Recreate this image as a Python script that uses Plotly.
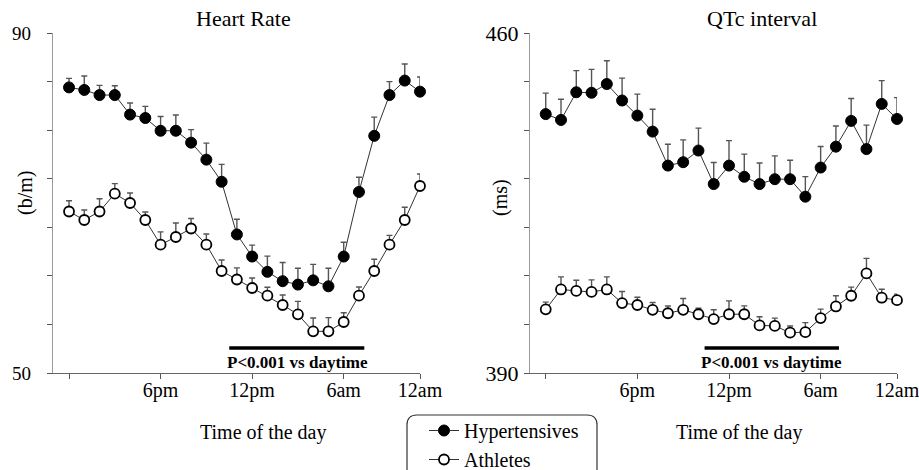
import plotly.graph_objects as go

hours = list(range(24))
x_tick_vals = [0, 6, 12, 18, 23]
x_tick_text = ["", "6pm", "12pm", "6am", "12am"]

hr_hyper = [83.6, 83.3, 82.7, 82.7, 80.4, 80.0, 78.5, 78.5, 77.1, 75.1, 72.5, 66.3,
            63.7, 61.9, 60.8, 60.4, 60.9, 60.2, 63.7, 71.3, 77.9, 82.7, 84.4, 83.1]
hr_hyper_err = [1.06, 1.65, 1.14, 1.10, 1.37, 1.37, 1.68, 1.85, 1.53, 1.95, 2.05, 1.79,
                1.34, 1.85, 2.20, 1.92, 1.88, 2.12, 1.69, 1.73, 2.20, 1.58, 1.96, 1.73]
hr_ath = [69.0, 68.0, 69.0, 71.1, 70.0, 68.0, 65.1, 66.0, 67.0, 65.1, 62.0, 61.0,
          60.0, 59.1, 58.0, 56.9, 54.9, 54.9, 56.0, 59.1, 62.0, 65.1, 68.0, 72.0]
hr_ath_err = [1.26, 1.18, 1.50, 1.18, 1.18, 0.94, 1.50, 1.65, 1.18, 1.26, 1.29, 1.37,
              1.18, 0.98, 1.18, 1.53, 1.57, 1.61, 1.09, 1.02, 1.38, 1.09, 1.50, 1.41]

qtc_hyper = [443.3, 442.1, 447.8, 447.7, 449.5, 446.1, 443.0, 439.7, 432.7, 433.4, 435.8, 428.9,
             432.7, 430.4, 428.9, 429.9, 429.9, 426.3, 432.3, 436.6, 441.9, 436.1, 445.4, 442.3]
qtc_hyper_err = [4.32, 4.26, 4.45, 4.82, 4.80, 4.61, 4.41, 4.61, 4.41, 4.59, 4.61, 4.45,
                 5.15, 4.67, 4.32, 4.80, 3.91, 4.12, 4.32, 4.26, 4.61, 4.94, 4.80, 4.39]
qtc_ath = [403.1, 407.2, 406.9, 406.7, 407.2, 404.4, 404.0, 403.0, 402.3, 403.0, 402.1, 401.1,
           402.1, 402.1, 399.8, 399.7, 398.3, 398.4, 401.3, 403.7, 405.9, 410.5, 405.5, 405.0]
qtc_ath_err = [1.50, 2.60, 2.20, 2.47, 2.60, 2.39, 1.59, 1.50, 1.50, 2.33, 1.24, 1.91,
               2.74, 1.71, 1.77, 1.59, 1.38, 1.98, 1.85, 2.20, 1.79, 3.09, 1.73, 1.24]

hr_ticks = [50 + k * 40 / 7 for k in range(8)]
hr_tick_text = ["50"] + [""] * 6 + ["90"]
qtc_ticks = [390 + 10 * k for k in range(8)]
qtc_tick_text = ["390"] + [""] * 6 + ["460"]

FONT = "Liberation Serif, Times New Roman, serif"
W, H = 919, 470

fig = go.Figure()


def add_series(x, y, err, filled, xa, ya, name, show):
    fig.add_trace(go.Scatter(
        x=x, y=y, mode="lines+markers", name=name, showlegend=show,
        xaxis=xa, yaxis=ya, cliponaxis=False,
        line=dict(color="#333333", width=1),
        marker=dict(size=11 if filled else 10,
                    color="black" if filled else "white",
                    line=dict(color="black", width=1 if filled else 1.8)),
        error_y=dict(type="data", array=err, arrayminus=[0] * len(err), symmetric=False,
                     color="#555555", thickness=1.4, width=3),
    ))


add_series(hours, hr_hyper, hr_hyper_err, True, "x", "y", "Hypertensives", True)
add_series(hours, hr_ath, hr_ath_err, False, "x", "y", "Athletes", True)
add_series(hours, qtc_hyper, qtc_hyper_err, True, "x2", "y2", "Hypertensives", False)
add_series(hours, qtc_ath, qtc_ath_err, False, "x2", "y2", "Athletes", False)

ytop, ybot = 33, 373
ydom = [(H - ybot) / H, (H - ytop) / H]

xcommon = dict(showgrid=False, zeroline=False, showline=True, linecolor="#666666", linewidth=1.2,
               ticks="outside", ticklen=5, tickcolor="#555555", tickwidth=1,
               tickvals=x_tick_vals, ticktext=x_tick_text, automargin=False,
               ticklabeloverflow="allow", ticklabelstandoff=-6,
               tickfont=dict(family=FONT, size=20, color="black"))
ycommon = dict(showgrid=False, zeroline=False, showline=True, linecolor="#999999", linewidth=1.2,
               ticks="outside", ticklen=5, tickcolor="#555555", tickwidth=1, automargin=False,
               ticklabeloverflow="allow")

fig.update_layout(
    width=W, height=H,
    margin=dict(l=0, r=0, t=0, b=0, pad=0, autoexpand=False),
    paper_bgcolor="white", plot_bgcolor="white",
    font=dict(family=FONT, color="black", size=20),
    xaxis=dict(**xcommon, domain=[53 / W, 420 / W], range=[-1.05, 23], anchor="y"),
    xaxis2=dict(**xcommon, domain=[530 / W, 897 / W], range=[-1.03, 23], anchor="y2"),
    yaxis=dict(**ycommon, domain=ydom, range=[50, 90], tickvals=hr_ticks, ticktext=hr_tick_text,
               tickfont=dict(family=FONT, size=19, color="black"), ticklabelstandoff=12, anchor="x"),
    yaxis2=dict(**ycommon, domain=ydom, range=[390, 460], tickvals=qtc_ticks, ticktext=qtc_tick_text,
                tickfont=dict(family=FONT, size=22, color="black"), ticklabelstandoff=1, anchor="x2"),
    showlegend=True,
    legend=dict(x=424 / W, y=(H - 411) / H, xanchor="left", yanchor="top",
                bgcolor="rgba(0,0,0,0)", borderwidth=0,
                font=dict(family=FONT, size=20, color="black"),
                itemsizing="trace", tracegroupgap=0),
)

ann = []
ann.append(dict(text="Heart Rate", x=243 / W, y=(H - 18) / H, xref="paper", yref="paper",
                showarrow=False, font=dict(size=22), xanchor="center", yanchor="middle"))
ann.append(dict(text="QTc interval", x=762 / W, y=(H - 18) / H, xref="paper", yref="paper",
                showarrow=False, font=dict(size=22), xanchor="center", yanchor="middle"))
ann.append(dict(text="(b/m)", x=25 / W, y=(H - 193) / H, xref="paper", yref="paper",
                showarrow=False, textangle=-90, font=dict(size=20), xanchor="center", yanchor="middle"))
ann.append(dict(text="(ms)", x=500 / W, y=(H - 198) / H, xref="paper", yref="paper",
                showarrow=False, textangle=-90, font=dict(size=20), xanchor="center", yanchor="middle"))
ann.append(dict(text="Time of the day", x=263 / W, y=(H - 432) / H, xref="paper", yref="paper",
                showarrow=False, font=dict(size=20), xanchor="center", yanchor="middle"))
ann.append(dict(text="Time of the day", x=739 / W, y=(H - 432) / H, xref="paper", yref="paper",
                showarrow=False, font=dict(size=20), xanchor="center", yanchor="middle"))
ann.append(dict(text="<b>P&lt;0.001 vs daytime</b>", x=15.0, y=0.032, xref="x", yref="y domain",
                showarrow=False, font=dict(size=17), xanchor="center", yanchor="middle"))
ann.append(dict(text="<b>P&lt;0.001 vs daytime</b>", x=14.75, y=0.032, xref="x2", yref="y2 domain",
                showarrow=False, font=dict(size=17), xanchor="center", yanchor="middle"))
fig.update_layout(annotations=ann)

shapes = []
shapes.append(dict(type="line", xref="x", yref="y domain", x0=10.5, x1=19.35, y0=0.0735, y1=0.0735,
                   line=dict(color="black", width=3.5)))
shapes.append(dict(type="line", xref="x2", yref="y2 domain", x0=10.4, x1=19.2, y0=0.0735, y1=0.0735,
                   line=dict(color="black", width=3.5)))

# rounded legend frame (paper coordinates)
x0, x1 = 407 / W, 597 / W
y0, y1 = (H - 415) / H, (H - 490) / H
rx, ry = 10 / W, 10 / H
path = (f"M {x0 + rx},{y0} L {x1 - rx},{y0} Q {x1},{y0} {x1},{y0 - ry} "
        f"L {x1},{y1 + ry} Q {x1},{y1} {x1 - rx},{y1} L {x0 + rx},{y1} "
        f"Q {x0},{y1} {x0},{y1 + ry} L {x0},{y0 - ry} Q {x0},{y0} {x0 + rx},{y0} Z")
shapes.append(dict(type="path", xref="paper", yref="paper", path=path,
                   line=dict(color="#333333", width=1.2)))
fig.update_layout(shapes=shapes)

fig.write_html("out.html", config={"displayModeBar": False},
               post_script="document.body.style.margin='0px';document.body.style.overflow='hidden';")
